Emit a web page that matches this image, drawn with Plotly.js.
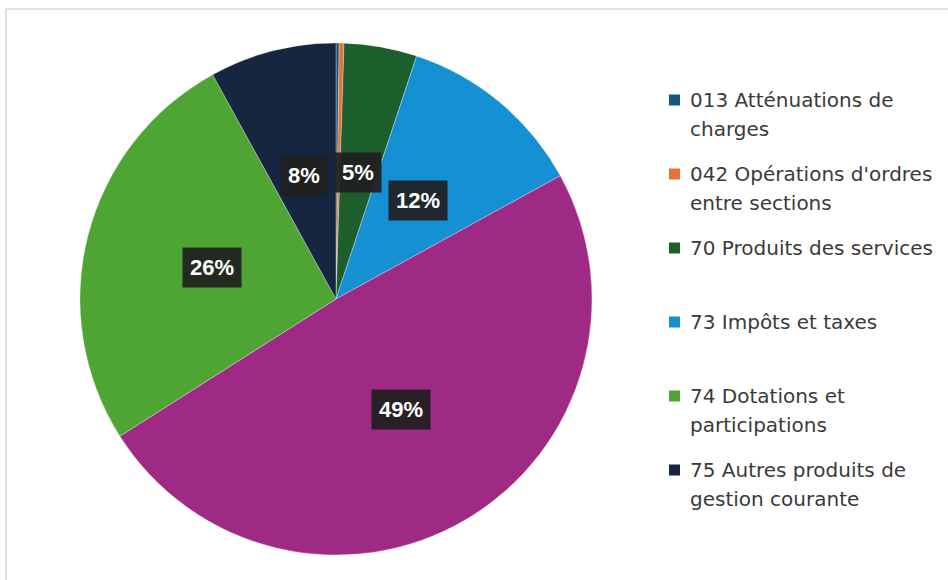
<!DOCTYPE html>
<html>
<head>
<meta charset="utf-8">
<script src="https://cdn.plot.ly/plotly-3.0.1.min.js"></script>
<style>
  html, body { margin: 0; padding: 0; background: #fff; }
  #chart { width: 948px; height: 580px; }
</style>
</head>
<body>
<div id="chart"></div>
<script>
// ---- Data ----
const categories = [
  "013 Atténuations de charges",
  "042 Opérations d'ordres entre sections",
  "70 Produits des services",
  "73 Impôts et taxes",
  "731 Fiscalité locale",
  "74 Dotations et participations",
  "75 Autres produits de gestion courante"
];
const values = [0.2, 0.3, 4.6, 11.9, 49.0, 26.0, 8.0];
const colors = ["#17577d", "#e97132", "#1d5f2c", "#1590d2", "#9e2a86", "#4ea534", "#172640"];
// legend lines (the reference legend omits the 731 slice)
const legendLines = [
  ["013 Atténuations de", "charges"],
  ["042 Opérations d'ordres", "entre sections"],
  ["70 Produits des services"],
  ["73 Impôts et taxes"],
  ["74 Dotations et", "participations"],
  ["75 Autres produits de", "gestion courante"]
];
const legendIndex = [0, 1, 2, 3, 5, 6];

// ---- Layout constants ----
const W = 948, H = 580;
const CX = 336, CY = 299, R = 256;   // pie centre / radius in px
const FONT = "DejaVu Sans, sans-serif";

const trace = {
  type: "pie",
  labels: categories,
  values: values,
  sort: false,
  direction: "clockwise",
  rotation: 0,
  textinfo: "none",
  hoverinfo: "label+percent",
  showlegend: false,
  marker: { colors: colors, line: { color: "rgba(255,255,255,0.5)", width: 0.6 } },
  domain: { x: [(CX - R) / W, (CX + R) / W], y: [(H - CY - R) / H, (H - CY + R) / H] }
};

const total = values.reduce((a, b) => a + b, 0);
const annotations = [];
let cum = 0;
values.forEach((v, i) => {
  const mid = (cum + v / 2) / total;
  cum += v;
  const pct = Math.round(v / total * 100);
  if (pct < 1) return;
  const ang = mid * 2 * Math.PI;
  const r = 0.5 * R;
  const px = CX + r * Math.sin(ang);
  const py = CY - r * Math.cos(ang);
  annotations.push({
    xref: "paper", yref: "paper",
    x: px / W, y: 1 - py / H,
    xanchor: "center", yanchor: "middle",
    text: "<b>" + pct + "%</b>",
    showarrow: false,
    font: { family: "Liberation Sans, Arial, sans-serif", size: 22, color: "#ffffff" },
    bgcolor: "rgba(32,32,32,0.92)",
    borderpad: 7
  });
});

// manual legend
const shapes = [];
const LX = 669, TX = 689, Y0 = 100, STEP = 74, LINE = 29;
legendLines.forEach((lines, k) => {
  const yc = Y0 + STEP * k;
  shapes.push({
    type: "rect", xref: "paper", yref: "paper",
    x0: LX / W, x1: (LX + 11) / W,
    y0: 1 - (yc + 5.5) / H, y1: 1 - (yc - 5.5) / H,
    fillcolor: colors[legendIndex[k]], line: { width: 0 }
  });
  lines.forEach((t, j) => {
    annotations.push({
      xref: "paper", yref: "paper",
      x: (TX - 1) / W, y: 1 - (yc + j * LINE) / H,
      xanchor: "left", yanchor: "middle",
      text: t, showarrow: false,
      font: { family: FONT, size: 20, color: "#3a3a3a" }
    });
  });
});

// outer frame of the scanned chart
shapes.push({ type: "line", xref: "paper", yref: "paper", x0: 6 / W, x1: 1, y0: 1 - 9 / H, y1: 1 - 9 / H, line: { color: "#c4c4c4", width: 1 } });
shapes.push({ type: "line", xref: "paper", yref: "paper", x0: 6 / W, x1: 6 / W, y0: 0, y1: 1 - 9 / H, line: { color: "#c4c4c4", width: 1 } });

const layout = {
  width: W, height: H,
  margin: { l: 0, r: 0, t: 0, b: 0 },
  paper_bgcolor: "#ffffff",
  showlegend: false,
  annotations: annotations,
  shapes: shapes
};

Plotly.newPlot("chart", [trace], layout, { displayModeBar: false, staticPlot: true });
</script>
</body>
</html>
